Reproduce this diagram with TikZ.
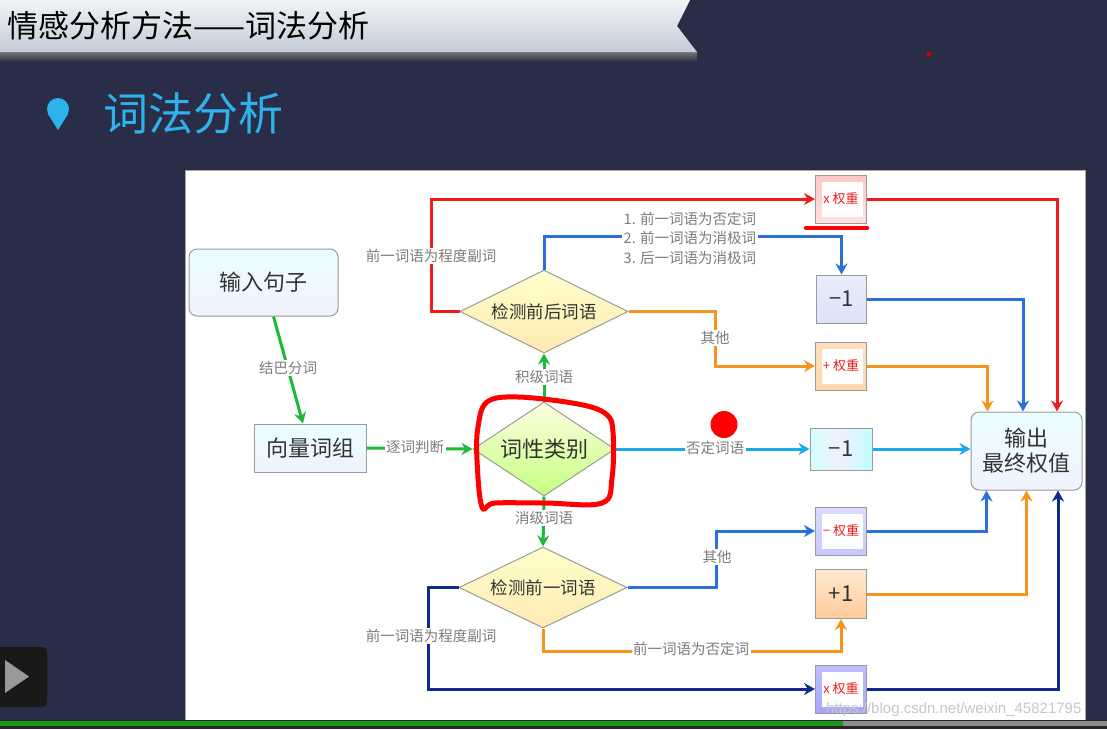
\documentclass[tikz,border=0pt]{standalone}
\usepackage{fontspec}
\setmainfont{Noto Sans CJK SC}
\newfontfamily\wmfont{Liberation Sans}
\usetikzlibrary{shapes.geometric,arrows.meta}
\definecolor{bg}{HTML}{292D47}
\definecolor{titleblue}{HTML}{2DB2EC}
\definecolor{lred}{HTML}{EE1C1C}
\definecolor{lblue}{HTML}{2B6FD8}
\definecolor{lcyan}{HTML}{1CA8EC}
\definecolor{lorange}{HTML}{F7941E}
\definecolor{lnavy}{HTML}{0F2C8C}
\definecolor{lgreen}{HTML}{1DBA3A}
\definecolor{bordergray}{HTML}{9A9A9A}
\definecolor{txt}{HTML}{333333}
\definecolor{labgray}{HTML}{7C7C7C}
\definecolor{hltop}{HTML}{F1F3F5}
\definecolor{hlbot}{HTML}{C3CCD8}
\definecolor{peri}{HTML}{DCE3F7}
\definecolor{perib}{HTML}{E9EDFA}
\tikzset{
  ln/.style={line width=3pt, -{Stealth[length=11pt,width=12pt]}},
  lab/.style={fill=white, text=labgray, font=\fontsize{14.5}{19.5}\selectfont, inner sep=1.5pt},
  mainbox/.style={draw=bordergray, line width=1pt, inner sep=0pt, text=txt,
    font=\fontsize{22}{25}\selectfont, shading=axis, top color=blue!3!cyan!8, bottom color=cyan!18!blue!6},
  rbox/.style={mainbox, rounded corners=8pt},
  dia/.style={diamond, shape aspect=2, draw=bordergray, line width=1pt, inner sep=0pt, text=txt},
  ydia/.style={dia, shading=axis, top color=yellow!20!white, bottom color=yellow!45!orange!30!white,
    font=\fontsize{17.5}{20}\selectfont},
  gdia/.style={dia, shading=axis, top color=green!8!yellow!12!white, bottom color=green!45!yellow!50!white,
    font=\fontsize{22}{24}\selectfont},
  wbox/.style={draw=bordergray, line width=1pt, inner sep=0pt, minimum width=51pt, minimum height=48pt},
  numbox/.style={wbox, text=txt, font=\fontsize{22}{24}\selectfont},
  framed/.style={wbox, text=lred, font=\fontsize{13}{15}\selectfont,
    path picture={\fill[white] ([shift={(6pt,6pt)}]path picture bounding box.south west)
      rectangle ([shift={(-4pt,-7pt)}]path picture bounding box.north east);}},
}
\begin{document}
\begin{tikzpicture}[x=1pt,y=-1pt]
\useasboundingbox (0,0) rectangle (1107,729);
% background
\fill[bg] (0,0) rectangle (1107,729);
% header band
\shade[top color=black!55, bottom color=bg] (0,52) rectangle (697,62);
\shade[top color=hltop, bottom color=hlbot] (0,0) -- (690,0) -- (677,26) -- (697,52) -- (0,52) -- cycle;
\node[anchor=west, text=black, font=\fontsize{31}{33}\selectfont, inner sep=0pt] (head) at (7,26) {情感分析方法——词法分析};
% title
\fill[titleblue] (58,109) circle[radius=11pt];
\fill[titleblue] (48,114) -- (68,114) -- (58,130) -- cycle;
\node[anchor=west, text=titleblue, font=\fontsize{45}{48}\selectfont, inner sep=0pt] (title) at (103,113) {词法分析};
% white panel
\fill[white, draw=black!35, line width=0.8pt] (185,170) rectangle (1085,720);
% main nodes
\node[rbox, minimum width=149pt, minimum height=67pt] (inp) at (263.5,282.5) {输入句子};
\node[mainbox, minimum width=112pt, minimum height=48pt] (vec) at (310,448) {向量词组};
\node[gdia, minimum width=142pt, minimum height=94pt] (cls) at (544,449) {词性类别};
\node[ydia, minimum width=168pt, minimum height=83pt] (dq) at (544,311.5) {检测前后词语};
\node[ydia, minimum width=168pt, minimum height=81pt] (d1) at (543,587.5) {检测前一词语};
\node[rbox, minimum width=111pt, minimum height=78pt, align=center, font=\fontsize{22}{25}\selectfont] (out) at (1026.5,451) {输出\\最终权值};
% operation boxes
\node[framed, shading=axis, top color=red!22!white, bottom color=red!12!white] (xw1) at (841,199) {x 权重};
\node[numbox, minimum width=50pt, shading=axis, top color=perib, bottom color=peri] (m1) at (841.5,299) {−1};
\node[framed, shading=axis, top color=orange!25!white, bottom color=orange!32!white] (pw) at (841,366) {+ 权重};
\node[numbox, minimum width=62pt, minimum height=42pt, shading=axis, left color=cyan!18!white, right color=cyan!25!white, middle color=blue!6!white] (m2) at (841,449) {−1};
\node[framed, shading=axis, top color=blue!14!white, bottom color=blue!22!white] (nw) at (841,531) {− 权重};
\node[numbox, minimum height=49pt, shading=axis, top color=orange!18!white, bottom color=orange!40!white] (p1) at (841,594) {+1};
\node[framed, shading=axis, top color=blue!25!white, bottom color=blue!35!white] (xw2) at (841,689) {x 权重};
% connectors
\draw[ln, lgreen] ([xshift=10pt]inp.south) -- ([xshift=-7pt]vec.north);
\draw[ln, lgreen] (vec.east) -- (cls.west);
\draw[ln, lgreen] (cls.north) -- (dq.south);
\draw[ln, lgreen] (cls.south) -- (d1.north);
\draw[ln, lred] (dq.west) -- ++(-28,0) |- (xw1.west);
\draw[ln, lblue] (dq.north) -- ++(0,-33) -| (m1.north);
\draw[ln, lorange] (dq.east) -- ++(87,0) |- (pw.west);
\draw[ln, lcyan] (cls.east) -- (m2.west);
\draw[ln, lcyan] (m2.east) -- (m2.east -| out.west);
\draw[ln, lblue] (d1.east) -- ++(89,0) |- (nw.west);
\draw[ln, lorange] (d1.south) -- ++(0,23) -| (p1.south);
\draw[ln, lnavy] (d1.west) -- ++(-30,0) |- (xw2.west);
\draw[ln, lred] (xw1.east) -| ([xshift=30.5pt]out.north);
\draw[ln, lblue] (m1.east) -| ([xshift=-3.5pt]out.north);
\draw[ln, lorange] (pw.east) -| ([xshift=-39pt]out.north);
\draw[ln, lblue] (nw.east) -| ([xshift=-40pt]out.south);
\draw[ln, lorange] (p1.east) -| (out.south);
\draw[ln, lnavy] (xw2.east) -| ([xshift=31.5pt]out.south);
% labels
\node[lab] (l1) at (431,256) {前一词语为程度副词};
\node[lab, align=left, anchor=west] (l2) at (622,238) {1. 前一词语为否定词\\2. 前一词语为消极词\\3. 后一词语为消极词};
\node[lab] (l3) at (715,338) {其他};
\node[lab] (l4) at (288,368) {结巴分词};
\node[lab] (l5) at (415,447) {逐词判断};
\node[lab] (l6) at (544,377) {积级词语};
\node[lab] (l7) at (544,518) {消级词语};
\node[lab] (l8) at (715,448) {否定词语};
\node[lab] (l9) at (717,557) {其他};
\node[lab] (l10) at (691,649) {前一词语为否定词};
\node[lab] (l11) at (431,636) {前一词语为程度副词};
% hand-drawn marks
\draw[red, line width=5pt, line join=round] plot[smooth cycle, tension=0.6] coordinates {
  (487,402) (518,397) (578,404) (606,414) (613,432) (612,478) (602,503)
  (545,503) (495,503) (482,507) (477,460) (478,427)};
\draw[red, line width=4.5pt, line cap=round] (806,228) -- (867,228);
\fill[red] (724,424.5) circle[radius=13.5pt];
\fill[red!80!black] (929,54) circle[radius=2.5pt];
% watermark
\node[anchor=west, text=black!22, font=\wmfont\fontsize{15}{17}\selectfont, inner sep=0pt] (wm) at (826,710) {https://blog.csdn.net/weixin\_45821795};
% progress bar
\fill[black!85] (0,720) rectangle (1107,729);
\fill[black!45] (843,721) rectangle (1107,726);
\fill[green!55!black!90] (0,721) rectangle (843,726);
% play button
\fill[black!90, rounded corners=5pt] (-10,647) rectangle (47,707);
\fill[black!40] (5,660) -- (29,676.5) -- (5,693) -- cycle;
\end{tikzpicture}
\end{document}
